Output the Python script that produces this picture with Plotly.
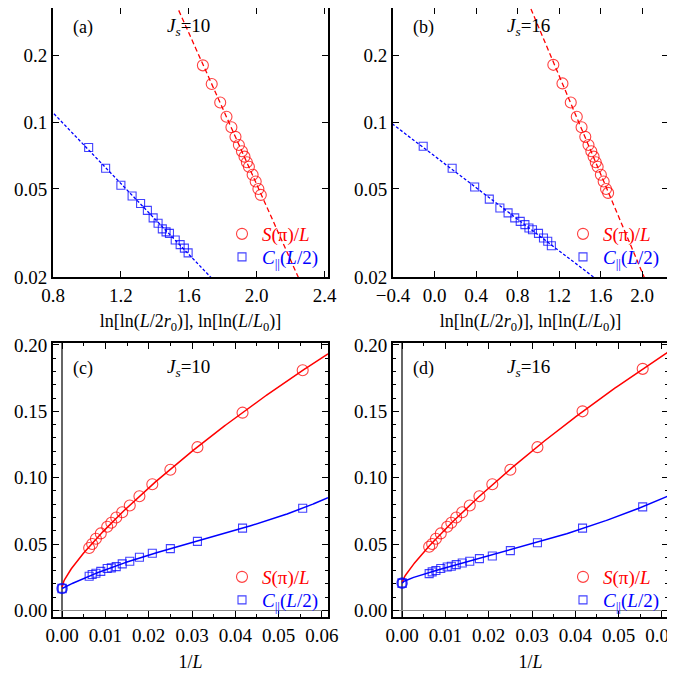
import numpy as np
import plotly.graph_objects as go

# ---------------- data ----------------
L_sizes = [18, 24, 32, 40, 48, 56, 64, 72, 80, 88, 96, 112, 128, 144, 160]

# Js = 10
S10 = [0.181, 0.149, 0.123, 0.106, 0.095, 0.086, 0.079, 0.074, 0.070, 0.066, 0.063, 0.058, 0.054, 0.050, 0.047]
C10 = [0.077, 0.062, 0.052, 0.0465, 0.043, 0.040, 0.037, 0.035, 0.033, 0.032, 0.0315, 0.0294, 0.028, 0.027, 0.0257]
xS10 = [1.683, 1.735, 1.785, 1.822, 1.851, 1.875, 1.895, 1.913, 1.928, 1.942, 1.954, 1.976, 1.994, 2.010, 2.024]
xC10 = [1.010, 1.110, 1.200, 1.266, 1.316, 1.356, 1.390, 1.419, 1.444, 1.466, 1.486, 1.520, 1.549, 1.574, 1.596]
S10_inf = 0.0175
C10_inf = 0.0165

# Js = 16
S16 = [0.182, 0.150, 0.123, 0.106, 0.095, 0.086, 0.079, 0.074, 0.070, 0.066, 0.063, 0.058, 0.054, 0.050, 0.048]
C16 = [0.078, 0.062, 0.051, 0.045, 0.041, 0.039, 0.037, 0.0357, 0.0345, 0.0333, 0.0327, 0.0315, 0.030, 0.029, 0.0277]
xS16 = [1.145, 1.233, 1.313, 1.371, 1.417, 1.453, 1.484, 1.511, 1.533, 1.554, 1.572, 1.603, 1.630, 1.653, 1.673]
xC16 = [-0.109, 0.170, 0.387, 0.528, 0.630, 0.709, 0.773, 0.826, 0.871, 0.910, 0.944, 1.002, 1.050, 1.091, 1.126]
S16_inf = 0.021
C16_inf = 0.0205

top_yticks = [0.02, 0.05, 0.1, 0.2]
RED = "#ff0000"
BLUE = "#0000ff"
FONT = "Liberation Serif"

invL = [1.0 / v for v in L_sizes]

fig = go.Figure()

def loglog_fit(x, y, xr):
    p = np.polyfit(np.array(x), np.log(np.array(y)), 1)
    xs = np.linspace(xr[0], xr[1], 200)
    return xs, np.exp(np.polyval(p, xs))

def sqrt_fit(x, y, x0val, xmax, powers):
    xx = np.array([0.0] + list(x))
    yy = np.array([x0val] + list(y))
    w = np.ones_like(xx); w[0] = 5
    A = np.vstack([xx ** pw for pw in powers]).T
    coef, *_ = np.linalg.lstsq(A * w[:, None], yy * w, rcond=None)
    xs = np.linspace(0, xmax, 300)
    return xs, np.vstack([xs ** pw for pw in powers]).T @ coef

S_name = "<span style='color:#ff0000'><i>S</i>(π)/<i>L</i></span>"
C_name = "<span style='color:#0000ff'><i>C</i><sub>||</sub>(<i>L</i>/2)</span>"

S_marker = dict(symbol="circle-open", size=11, color=RED, line=dict(width=1.1), opacity=0.75)
C_marker = dict(symbol="square-open", size=8, color=BLUE, line=dict(width=1.1), opacity=0.75)

def top_panel(ax, xS, S, xC, C, xr, legS, legC):
    xa, ya = ("x", "y") if ax == 1 else ("x%d" % ax, "y%d" % ax)
    xs, ys = loglog_fit(xS, S, xr)
    fig.add_trace(go.Scatter(x=xs, y=ys, mode="lines", xaxis=xa, yaxis=ya, showlegend=False,
                             line=dict(color=RED, width=1.3, dash="5px,3px")))
    xs, ys = loglog_fit(xC, C, xr)
    fig.add_trace(go.Scatter(x=xs, y=ys, mode="lines", xaxis=xa, yaxis=ya, showlegend=False,
                             line=dict(color=BLUE, width=1.3, dash="3px,2px")))
    fig.add_trace(go.Scatter(x=xS, y=S, mode="markers", xaxis=xa, yaxis=ya, name=S_name, legend=legS,
                             marker=S_marker))
    fig.add_trace(go.Scatter(x=xC, y=C, mode="markers", xaxis=xa, yaxis=ya, name=C_name, legend=legC,
                             marker=C_marker))

def bottom_panel(ax, S, C, Sinf, Cinf, legS, legC):
    xa, ya = "x%d" % ax, "y%d" % ax
    xs, ys = sqrt_fit(invL, S, Sinf, 0.0614, [0, 0.5, 1, 1.5])
    fig.add_trace(go.Scatter(x=xs, y=ys, mode="lines", xaxis=xa, yaxis=ya, showlegend=False,
                             line=dict(color=RED, width=1.5)))
    xs, ys = sqrt_fit(invL, C, Cinf, 0.0614, [0, 0.5, 1, 2, 3])
    fig.add_trace(go.Scatter(x=xs, y=ys, mode="lines", xaxis=xa, yaxis=ya, showlegend=False,
                             line=dict(color=BLUE, width=1.5)))
    fig.add_trace(go.Scatter(x=invL, y=S, mode="markers", xaxis=xa, yaxis=ya, name=S_name, legend=legS,
                             marker=S_marker))
    fig.add_trace(go.Scatter(x=invL, y=C, mode="markers", xaxis=xa, yaxis=ya, name=C_name, legend=legC,
                             marker=C_marker))
    fig.add_trace(go.Scatter(x=[0, 0], y=[Cinf, Cinf], mode="markers", xaxis=xa, yaxis=ya, showlegend=False,
                             marker=dict(symbol=["circle-open", "square-open"], size=[10, 8], color=BLUE,
                                         line=dict(width=1.6))))

top_panel(1, xS10, S10, xC10, C10, (0.5, 2.6), "legend", "legend2")
top_panel(2, xS16, S16, xC16, C16, (-0.6, 2.4), "legend3", "legend4")
bottom_panel(3, S10, C10, S10_inf, C10_inf, "legend5", "legend6")
bottom_panel(4, S16, C16, S16_inf, C16_inf, "legend7", "legend8")

# the page body has an 8px margin: lay the figure out in screen pixels minus that offset
OFF = 8
W, H = 675 - OFF, 677 - OFF
def px_x(a, b): return [(a - OFF) / W, (b - OFF) / W]
def px_y(top, bot): return [1 - (bot - OFF) / H, 1 - (max(top, OFF) - OFF) / H]

lo, hi = np.log10(0.02), np.log10(0.35)
hi_clip = hi - (OFF - 2) * (hi - lo) / 275.0

base = dict(showline=True, linecolor="black", linewidth=1.8, mirror="ticks", ticks="inside",
            ticklen=6, tickwidth=1, tickcolor="black", showgrid=False, zeroline=False, automargin=False,
            ticklabeloverflow="allow",
            tickfont=dict(family=FONT, size=19, color="black"))
title_font = dict(family=FONT, size=18, color="black")
xlab_top = "ln[ln(<i>L</i>/2<i>r</i><sub>0</sub>)], ln[ln(<i>L</i>/<i>L</i><sub>0</sub>)]"

fig.update_layout(
    template="none",
    width=W, height=H, margin=dict(l=0, r=0, t=0, b=0, autoexpand=False),
    paper_bgcolor="white", plot_bgcolor="white",
    font=dict(family=FONT, size=18, color="black"),
    xaxis=dict(base, domain=px_x(53, 328), range=[0.8, 2.42], tickvals=[0.8, 1.2, 1.6, 2.0, 2.4],
               tickformat=".1f", anchor="y", title=dict(text=xlab_top, font=title_font, standoff=10)),
    yaxis=dict(base, domain=px_y(2, 277), type="log", range=[lo, hi_clip],
               tickvals=top_yticks, ticktext=["0.02", "0.05", "0.1", "0.2"], anchor="x"),
    xaxis2=dict(base, domain=px_x(393, 668), range=[-0.4, 2.25], tickvals=[-0.4, 0.0, 0.4, 0.8, 1.2, 1.6, 2.0],
                tickformat=".1f", anchor="y2", title=dict(text=xlab_top, font=title_font, standoff=10)),
    yaxis2=dict(base, domain=px_y(2, 277), type="log", range=[lo, hi_clip],
                tickvals=top_yticks, ticktext=["0.02", "0.05", "0.1", "0.2"], anchor="x2"),
    xaxis3=dict(base, domain=px_x(53, 328), range=[-0.0021, 0.0614], dtick=0.01, tick0=0, tickformat=".2f",
                anchor="y3", zeroline=True, zerolinecolor="#666666", zerolinewidth=1.5,
                minor=dict(ticks="inside", ticklen=3, dtick=0.005, tickcolor="black"),
                title=dict(text="1/<i>L</i>", font=title_font, standoff=11)),
    yaxis3=dict(base, domain=px_y(343, 617), range=[-0.005, 0.2015], dtick=0.05, tick0=0, tickformat=".2f",
                anchor="x3", zeroline=True, zerolinecolor="#888888", zerolinewidth=1.2,
                minor=dict(ticks="inside", ticklen=3, dtick=0.01, tickcolor="black")),
    xaxis4=dict(base, domain=px_x(393, 668), range=[-0.0021, 0.0614], dtick=0.01, tick0=0, tickformat=".2f",
                anchor="y4", zeroline=True, zerolinecolor="#666666", zerolinewidth=1.5,
                minor=dict(ticks="inside", ticklen=3, dtick=0.005, tickcolor="black"),
                title=dict(text="1/<i>L</i>", font=title_font, standoff=11)),
    yaxis4=dict(base, domain=px_y(343, 617), range=[-0.005, 0.2015], dtick=0.05, tick0=0, tickformat=".2f",
                anchor="x4", zeroline=True, zerolinecolor="#888888", zerolinewidth=1.2,
                minor=dict(ticks="inside", ticklen=3, dtick=0.01, tickcolor="black")),
)

def sx(p): return (p - OFF) / W
def sy(p): return 1 - (p - OFF) / H

leg_common = dict(bgcolor="rgba(0,0,0,0)", font=dict(family=FONT, size=19), xanchor="left", yanchor="middle",
                  itemwidth=30)
fig.update_layout(
    legend=dict(leg_common, x=sx(222), y=sy(234)),
    legend2=dict(leg_common, x=sx(222), y=sy(257)),
    legend3=dict(leg_common, x=sx(563), y=sy(234)),
    legend4=dict(leg_common, x=sx(563), y=sy(257)),
    legend5=dict(leg_common, x=sx(222), y=sy(577)),
    legend6=dict(leg_common, x=sx(222), y=sy(600)),
    legend7=dict(leg_common, x=sx(563), y=sy(577)),
    legend8=dict(leg_common, x=sx(563), y=sy(600)),
)

def label(x, y, text, size=17):
    fig.add_annotation(xref="paper", yref="paper", x=sx(x), y=sy(y), text=text, showarrow=False,
                       xanchor="center", yanchor="middle",
                       font=dict(family=FONT, size=size, color="black"))

for i, (tag, js) in enumerate([("(a)", "10"), ("(b)", "16"), ("(c)", "10"), ("(d)", "16")]):
    x0 = [53, 393][i % 2]
    y0 = [2, 343][i // 2]
    label(x0 + 30, y0 + 25, tag, 18)
    label(x0 + 135, y0 + 25, "<i>J<sub>s</sub></i>=" + js, 19)

fig.write_html("out.html")
